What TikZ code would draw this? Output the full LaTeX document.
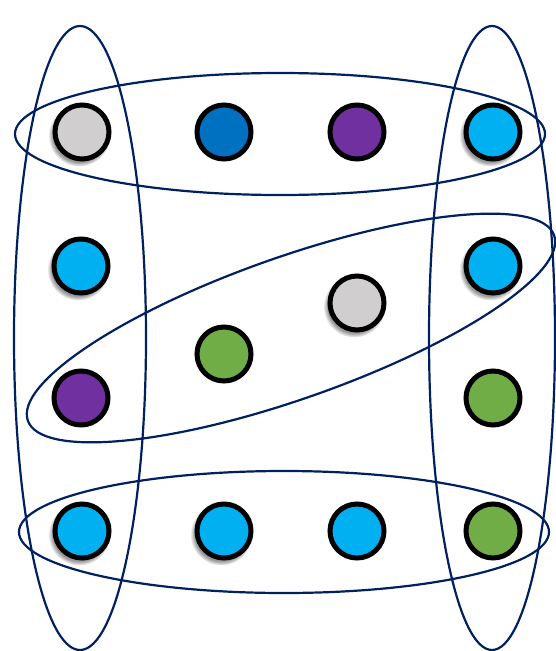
\documentclass[tikz,border=0pt]{standalone}
\usepackage{xcolor}
\usepackage{tikz}
\usetikzlibrary{shapes.geometric, shadows, backgrounds}

\definecolor{navy}{HTML}{002060}
\definecolor{lgray}{HTML}{D0CECE}
\definecolor{dblue}{HTML}{0070C0}
\definecolor{purp}{HTML}{7030A0}
\definecolor{cyanb}{HTML}{00B0F0}
\definecolor{grn}{HTML}{70AD47}

\begin{document}
\begin{tikzpicture}[
                x=1pt, y=-1pt,
                dot/.style={circle, draw=black, line width=5pt, minimum size=54pt, inner sep=0pt},
                shade/.style={circular drop shadow={shadow xshift=-2.5pt, shadow yshift=-3pt,
                        shadow scale=1.15, opacity=0.8}},
                group/.style={ellipse, draw=navy, line width=2.2pt, inner sep=0pt},
            ]

            \useasboundingbox (0,0) rectangle (556,651);

            % --- groups -----------------------------------------------------
            \node[group, minimum width=132pt, minimum height=624pt] (left_col)  at (80, 338) {};
            \node[group, minimum width=126pt, minimum height=624pt] (right_col) at (492,338) {};
            \node[group, minimum width=530pt, minimum height=122pt] (top_row)   at (280,134) {};
            \node[group, minimum width=530pt, minimum height=122pt] (bot_row)   at (284,532) {};
            \node[group, minimum width=558pt, minimum height=142pt, rotate=19.4] (diag) at (291,328) {};

            % --- top row ----------------------------------------------------
            \node[dot, fill=lgray, shade] (top_gray)   at (82, 132) {};
            \node[dot, fill=dblue]        (top_blue)   at (224,132) {};
            \node[dot, fill=purp]         (top_purple) at (357,132) {};
            \node[dot, fill=cyanb, shade] (top_cyan)   at (493,132) {};

            % --- middle -----------------------------------------------------
            \node[dot, fill=cyanb, shade] (mid_cyan_l)  at (81, 266) {};
            \node[dot, fill=cyanb, shade] (mid_cyan_r)  at (493,266) {};
            \node[dot, fill=lgray, shade] (mid_gray)    at (357,303) {};
            \node[dot, fill=grn]          (mid_green)   at (224,354) {};
            \node[dot, fill=purp]         (mid_purple)  at (81, 398) {};
            \node[dot, fill=grn]          (mid_green_r) at (493,398) {};

            % --- bottom row -------------------------------------------------
            \node[dot, fill=cyanb, shade] (bot_cyan_a) at (82, 531) {};
            \node[dot, fill=cyanb, shade] (bot_cyan_b) at (224,531) {};
            \node[dot, fill=cyanb]        (bot_cyan_c) at (357,531) {};
            \node[dot, fill=grn]          (bot_green)  at (493,531) {};
        \end{tikzpicture}
\end{document}
